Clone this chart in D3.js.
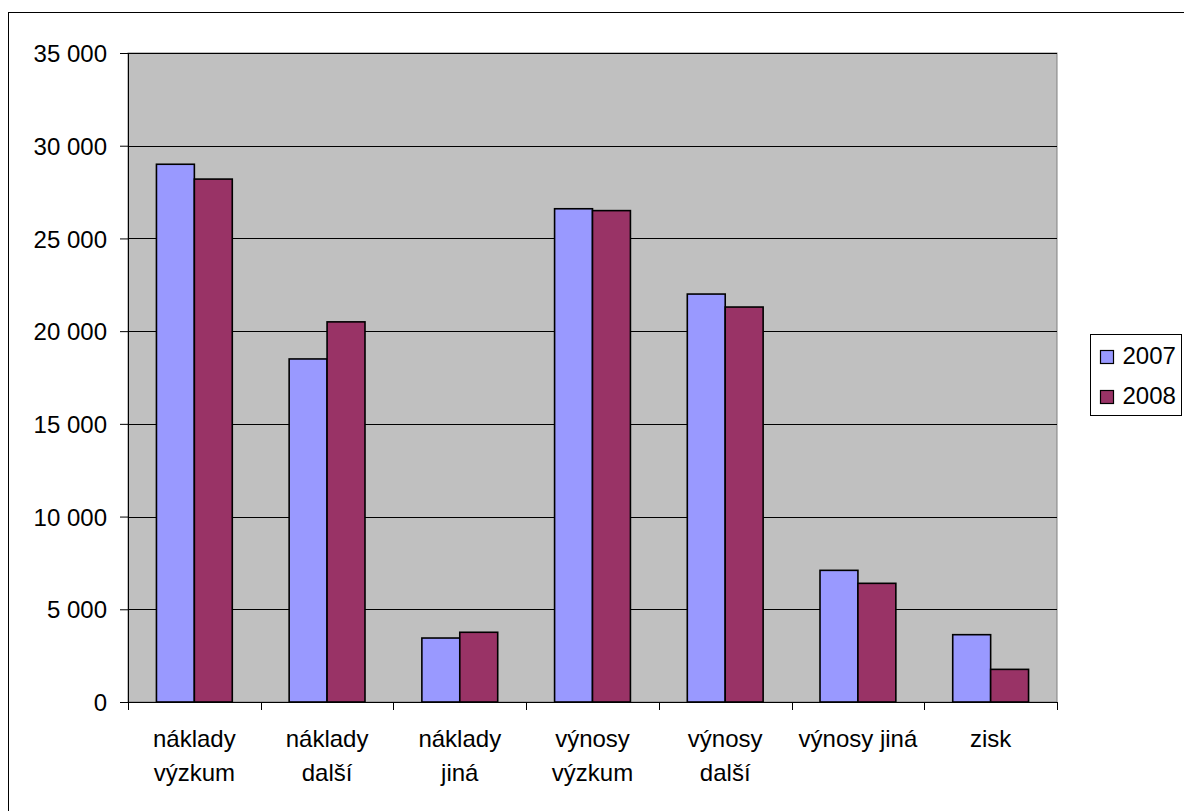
<!DOCTYPE html>
<html>
<head>
<meta charset="utf-8">
<script src="https://cdn.jsdelivr.net/npm/d3@7"></script>
<style>
  html, body { margin: 0; padding: 0; background: #fff; }
  svg { display: block; font-family: "Liberation Sans", Arial, sans-serif; }
</style>
</head>
<body>
<svg id="chart" width="1184" height="811"></svg>
<script>
/* ── data ──────────────────────────────────────────────────────── */
const categories = ["náklady výzkum", "náklady další", "náklady jiná", "výnosy výzkum", "výnosy další", "výnosy jiná", "zisk"];
const categoryLines = [["náklady", "výzkum"], ["náklady", "další"], ["náklady", "jiná"], ["výnosy", "výzkum"], ["výnosy", "další"], ["výnosy jiná"], ["zisk"]];
const series = ["2007", "2008"];
const values2007 = [29000, 18500, 3450, 26600, 22000, 7100, 3630];
const values2008 = [28200, 20500, 3760, 26500, 21300, 6400, 1760];
const yTicks = [0, 5000, 10000, 15000, 20000, 25000, 30000, 35000];

(function () {
  "use strict";

  /* ── layout ─────────────────────────────────────────────────── */
  const svg = d3.select("#chart");
  const L = 128, T = 53, R = 1057, B = 702;
  const colors = { "2007": "#9999ff", "2008": "#993366" };
  const font = 24;

  const rows = categories.map((c, i) => ({ cat: c, "2007": values2007[i], "2008": values2008[i] }));

  const x = d3.scaleBand().domain(categories).range([L, R]).padding(0);
  const xs = d3.scaleBand().domain(series).range([0, x.bandwidth()]).paddingInner(0).paddingOuter(0.75);
  const y = d3.scaleLinear().domain([0, 35000]).range([B, T]);

  const fmt = v => d3.format(",")(v).replace(/,/g, " ");

  /* ── outer frame ────────────────────────────────────────────── */
  svg.append("rect")
    .attr("x", 8.5).attr("y", 12.5).attr("width", 1200).attr("height", 820)
    .attr("fill", "#fff").attr("stroke", "#000").attr("stroke-width", 1);

  /* ── plot area + grid ───────────────────────────────────────── */
  svg.append("rect")
    .attr("x", L).attr("y", T).attr("width", R - L).attr("height", B - T)
    .attr("fill", "#c0c0c0").attr("stroke", "#808080").attr("stroke-width", 1);

  svg.append("g").selectAll("line").data(yTicks.filter(t => t > 0)).join("line")
    .attr("x1", L).attr("x2", R)
    .attr("y1", d => Math.round(y(d)) + 0.5).attr("y2", d => Math.round(y(d)) + 0.5)
    .attr("stroke", "#000").attr("stroke-width", 1);

  /* ── bars ───────────────────────────────────────────────────── */
  const grp = svg.append("g").selectAll("g").data(rows).join("g")
    .attr("transform", d => `translate(${x(d.cat)},0)`);

  grp.selectAll("rect").data(d => series.map(s => ({ s, v: d[s] }))).join("rect")
    .attr("x", d => xs(d.s))
    .attr("y", d => y(d.v))
    .attr("width", xs.bandwidth())
    .attr("height", d => B - y(d.v))
    .attr("fill", d => colors[d.s])
    .attr("stroke", "#000").attr("stroke-width", 1.6);

  /* ── y axis ─────────────────────────────────────────────────── */
  const yAxis = svg.append("g").attr("transform", `translate(${L},0)`)
    .call(d3.axisLeft(y).tickValues(yTicks).tickSize(8).tickSizeOuter(0).tickFormat(fmt));
  yAxis.select(".domain").attr("stroke", "#000");
  yAxis.selectAll(".tick line").attr("stroke", "#000");
  yAxis.selectAll("text")
    .attr("x", -21).attr("dy", null).attr("y", 8.6)
    .attr("font-size", font).attr("font-family", "Liberation Sans, Arial, sans-serif").attr("fill", "#000");

  /* ── x axis ─────────────────────────────────────────────────── */
  svg.append("line")
    .attr("x1", L).attr("x2", R).attr("y1", B + 0.5).attr("y2", B + 0.5)
    .attr("stroke", "#000");
  const edges = categories.map(c => x(c)).concat([R]);
  svg.append("g").selectAll("line").data(edges).join("line")
    .attr("x1", d => Math.round(d) + 0.5).attr("x2", d => Math.round(d) + 0.5)
    .attr("y1", B).attr("y2", B + 8)
    .attr("stroke", "#000");

  const lbl = svg.append("g").selectAll("text").data(categories).join("text")
    .attr("x", d => x(d) + x.bandwidth() / 2)
    .attr("y", B + 45)
    .attr("text-anchor", "middle")
    .attr("font-size", font).attr("fill", "#000");
  lbl.selectAll("tspan").data((d, i) => categoryLines[i]).join("tspan")
    .attr("x", function () { return this.parentNode.getAttribute("x"); })
    .attr("dy", (d, i) => i === 0 ? 0 : 34)
    .text(d => d);

  /* ── legend ─────────────────────────────────────────────────── */
  const lg = svg.append("g");
  lg.append("rect")
    .attr("x", 1090.5).attr("y", 334.5).attr("width", 91).attr("height", 81)
    .attr("fill", "#fff").attr("stroke", "#000");
  const item = lg.selectAll("g").data(series).join("g")
    .attr("transform", (d, i) => `translate(1100,${350 + i * 40})`);
  item.append("rect")
    .attr("x", 0.5).attr("y", 0.5).attr("width", 13).attr("height", 13)
    .attr("fill", d => colors[d]).attr("stroke", "#000").attr("stroke-width", 1.2);
  item.append("text")
    .attr("x", 22.5).attr("y", 13.5)
    .attr("font-size", font).attr("fill", "#000")
    .text(d => d);
})();
</script>
</body>
</html>
